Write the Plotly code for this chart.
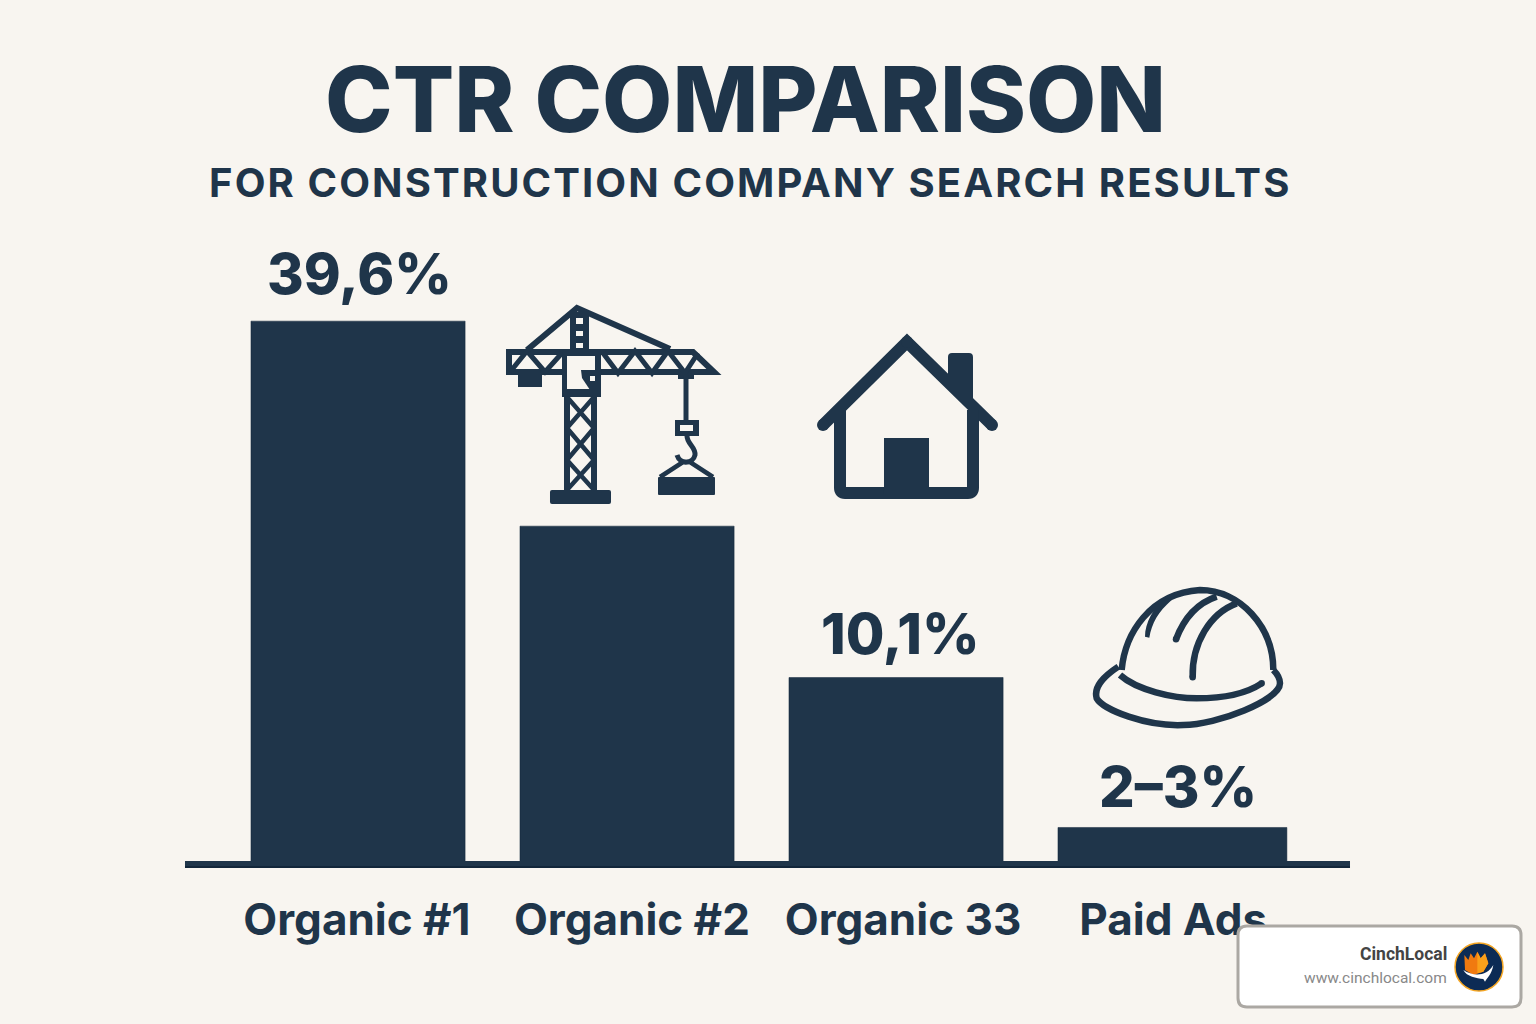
# CTR comparison bar chart with hand drawn construction icons.
import re
import plotly.graph_objects as go

# -------------------
# Data
# -------------------
categories = ["Organic #1", "Organic #2", "Organic 33", "Paid Ads"]
positions = [0, 1, 2, 3]
tick_positions = [-0.004, 1.018, 2.026, 3.03]
bar_heights = [39.6, 24.7, 13.7, 2.8]
bar_widths = [0.796, 0.796, 0.796, 0.851]
bar_labels = ["39,6%", "", "10,1%", "2–3%"]
label_xshift = [1.5, 0, 4.5, 12.5]
label_yshift = [11, 0, 8, 4]

NAVY = "#1f354a"
DARK = "#12263a"
BG = "#f8f5f0"
W, H = 1536, 1024
BOTTOM = 158  # space under the baseline


# image pixel -> paper coordinates
def px(x):
    return x / W


def py(y):
    return (H - BOTTOM - y) / (H - BOTTOM)


def to_paper(path, ox=0, oy=0, k=1.0):
    def repl(m):
        return f"{px(ox + float(m.group(1)) * k):.5f},{py(oy + float(m.group(2)) * k):.5f}"
    return re.sub(r"(-?[\d.]+),(-?[\d.]+)", repl, path)


shapes = []


def stroke(path, width, ox=0, oy=0, k=1.0, color=NAVY):
    shapes.append(dict(type="path", path=to_paper(path, ox, oy, k), xref="paper", yref="paper",
                       line=dict(color=color, width=width), layer="above"))


def fill(path, ox=0, oy=0, k=1.0, color=NAVY, line=None, width=0):
    shapes.append(dict(type="path", path=to_paper(path, ox, oy, k), xref="paper", yref="paper",
                       fillcolor=color, line=dict(color=line or color, width=width), layer="above"))


def rect(x0, y0, x1, y1, color=NAVY):
    fill(f"M{x0},{y0} L{x1},{y0} L{x1},{y1} L{x0},{y1} Z", color=color)


def dot(x, y, r, color=NAVY):
    shapes.append(dict(type="circle", xref="paper", yref="paper", x0=px(x - r), x1=px(x + r),
                       y0=py(y + r), y1=py(y - r), fillcolor=color, line=dict(width=0), layer="above"))


def round_rect(x0, y0, x1, y1, r, color, line=None, width=0):
    fill(f"M{x0 + r},{y0} L{x1 - r},{y0} Q{x1},{y0} {x1},{y0 + r} L{x1},{y1 - r} Q{x1},{y1} {x1 - r},{y1} "
         f"L{x0 + r},{y1} Q{x0},{y1} {x0},{y1 - r} L{x0},{y0 + r} Q{x0},{y0} {x0 + r},{y0} Z",
         color=color, line=line, width=width)


# -------------------
# Baseline
# -------------------
rect(185, 861, 1350, 868)
rect(185, 866, 1350, 868, color=DARK)

# -------------------
# Crane
# -------------------
stroke("M509,352 L693,352 L714,372 L509,372 Z", 6)
stroke("M510,372 L527,351 L545,372 L562,353", 5)
stroke("M603,353 L618,373 L635,351 L652,373 L668,351 L685,373 L698,353", 5)
stroke("M527,350 L577,308 L670,349", 6)
rect(570, 312, 589, 352)
rect(576, 318, 583, 324, BG)
rect(576, 331, 583, 336, BG)
rect(576, 343, 583, 348, BG)
rect(518, 373, 542, 387)
# cab, open in the middle
rect(562, 352, 601, 397)
rect(567, 356, 595, 389, BG)
fill("M581,370 L596,370 L596,390 L590,390 L582,378 Z")
rect(590, 376, 595, 381, BG)
stroke("M567,393 L567,492 M594,393 L594,492", 6)
stroke("M567,397 L594,428 L567,460 L594,490 M594,397 L567,428 L594,460 L567,490", 4.5)
round_rect(550, 490, 611, 504, 2, NAVY)
rect(678, 375, 694, 379)
rect(683.5, 375, 688.5, 421)
rect(675, 420, 699, 436)
rect(680, 425, 693, 431, BG)
stroke("M687,436 C687,444 696,447 695,455 C693,464 680,465 677,455", 5)
stroke("M660,477 L683,462 L690,462 L713,477", 4.5)
round_rect(658, 477, 715, 495, 1, NAVY)

# -------------------
# House
# -------------------
stroke("M823,425 L907,342 L992,425", 12)
dot(823, 425, 6)
dot(907, 342, 6)
dot(992, 425, 6)
stroke("M840,410 L840,488 Q840,493 845,493 L968,493 Q973,493 973,488 L973,410", 12)
rect(884, 438, 929, 494)
fill("M948,357 Q948,353 952,353 L969,353 Q973,353 973,357 L973,404 L948,380 Z")

# -------------------
# Hard hat, coordinates taken from a 3x crop
# -------------------
ox, oy, k = 1070, 570, 1 / 3
stroke("M155,300 C165,190 240,70 390,60 C510,60 610,170 610,300", 6.5, ox, oy, k)
stroke("M150,315 C200,360 310,385 380,385 C460,385 530,370 575,340", 6.5, ox, oy, k)
stroke("M145,290 C100,320 70,350 80,385 C100,420 230,470 340,465 C440,465 630,390 630,340 C630,325 620,310 610,300",
       6.5, ox, oy, k)
stroke("M318,208 C340,150 380,100 440,80", 6.5, ox, oy, k)
stroke("M368,322 C365,220 420,130 500,100", 6.5, ox, oy, k)
fill("M225,200 C225,160 250,110 290,85 L305,90 C265,125 245,160 238,203 Z", ox, oy, k)
dot(1070 + 318 * k, 570 + 208 * k, 3.25)
dot(1070 + 368 * k, 570 + 322 * k, 3.25)
dot(1070 + 575 * k, 570 + 340 * k, 3.25)

# -------------------
# Badge
# -------------------
round_rect(1238, 926, 1521, 1007, 9, "#ffffff", line="#aba8a3", width=3)
shapes.append(dict(type="circle", xref="paper", yref="paper", x0=px(1455), x1=px(1503), y0=py(991), y1=py(943),
                   fillcolor="#0c2b55", line=dict(color="#f5a623", width=1.5), layer="above"))
ox, oy = 1220, 910
fill("M733,135 L745,150 L752,130 L762,145 L772,125 L782,145 L795,130 L805,160 L790,185 L760,195 L735,180 Z",
     ox, oy, k, color="#f07a10")
fill("M772,125 L782,145 L795,130 L805,160 L790,185 L772,190 Z", ox, oy, k, color="#f9a01b")
fill("M730,180 C760,200 800,200 820,165 C815,195 800,205 795,215 L790,207 C770,205 740,200 730,180 Z",
     ox, oy, k, color="#ffffff")

# -------------------
# Texts
# -------------------
FONT = "Inter"
annotations = [
    dict(text="CTR COMPARISON", x=px(745), y=py(99), font=dict(size=91, weight=800, family=FONT, color=NAVY)),
    dict(text="FOR CONSTRUCTION COMPANY SEARCH RESULTS", x=px(750), y=py(183),
         font=dict(size=40, weight=700, family=FONT, color=NAVY)),
    dict(text="CinchLocal", x=px(1449), y=py(954), xanchor="right",
         font=dict(size=17.5, weight=700, family="Roboto", color="#444444")),
    dict(text="www.cinchlocal.com", x=px(1449), y=py(978), xanchor="right",
         font=dict(size=15.5, family="Roboto", color="#888888")),
]
for a in annotations:
    a.update(xref="paper", yref="paper", showarrow=False, yanchor="middle", xanchor=a.get("xanchor", "center"))

# value labels sit on top of their bars
for pos, h, lab, dx, dy in zip(positions, bar_heights, bar_labels, label_xshift, label_yshift):
    if lab:
        annotations.append(dict(text=lab, x=pos, y=h, xref="x", yref="y", showarrow=False, yanchor="bottom",
                                xshift=dx, yshift=dy, font=dict(size=56, weight=800, family=FONT, color=NAVY)))

# -------------------
# Build chart
# -------------------
fig = go.Figure(go.Bar(
    x=positions,
    y=bar_heights,
    width=bar_widths,
    offset=-0.398,
    marker=dict(color=NAVY, line=dict(color=DARK, width=0.5)),
))

fig.update_layout(
    width=W,
    height=H,
    margin=dict(l=0, r=0, t=0, b=BOTTOM),
    paper_bgcolor=BG,
    plot_bgcolor=BG,
    showlegend=False,
    shapes=shapes,
    annotations=annotations,
    xaxis=dict(
        range=[-1.331, 4.379],
        tickvals=tick_positions,
        ticktext=categories,
        ticks="",
        showgrid=False,
        zeroline=False,
        ticklabelstandoff=24,
        tickfont=dict(size=44, weight=700, family=FONT, color=NAVY),
    ),
    yaxis=dict(range=[0, 62.94], visible=False),
)

# subtitle is letter spaced in the original
spacing_js = """
document.body.style.margin = '0';
document.querySelectorAll('.annotation-text').forEach(function (t) {
    if (t.textContent.indexOf('FOR CONSTRUCTION') === 0) { t.style.letterSpacing = '2.1px'; }
});
"""
fig.write_html("out.html", post_script=spacing_js, config={"displayModeBar": False})
